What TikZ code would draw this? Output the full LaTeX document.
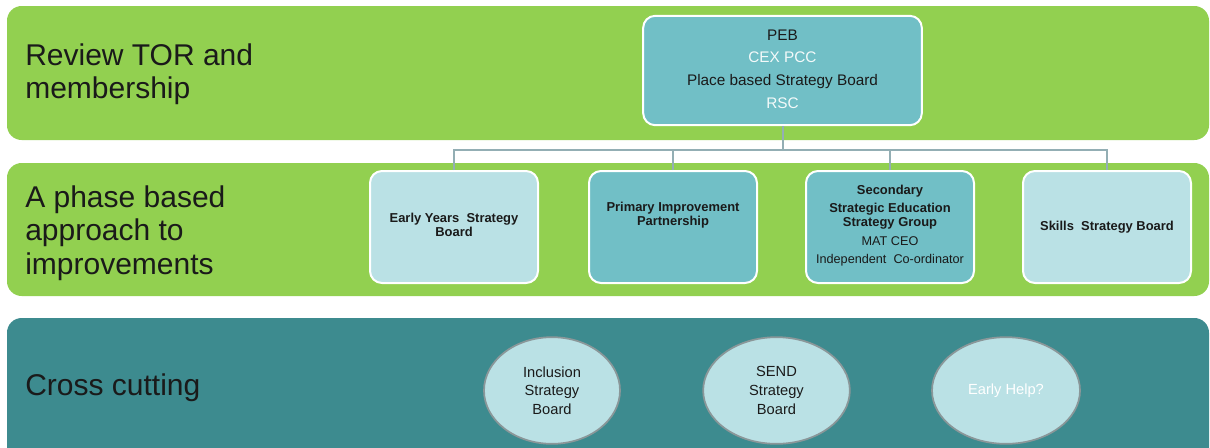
\documentclass[tikz,border=0pt]{standalone}
\usepackage{fontspec}
\setmainfont{Liberation Sans}
\usetikzlibrary{shapes.geometric}
\definecolor{bandgreen}{HTML}{92D050}
\definecolor{bandteal}{HTML}{3D8B8F}
\definecolor{boxteal}{HTML}{71BFC6}
\definecolor{boxlight}{HTML}{BAE1E5}
\definecolor{linkgrey}{HTML}{93AEB4}
\definecolor{ellgrey}{HTML}{8A9799}
\definecolor{inktext}{HTML}{1A1A1A}
\tikzset{
  bandshape/.style={rounded corners=11pt},
  bandlabel/.style={anchor=west, align=left, inner sep=0pt, text=inktext,
    font=\fontsize{22.5}{25}\selectfont},
  pebbox/.style={draw=white, line width=1.5pt, fill=boxteal, rounded corners=9pt,
    minimum width=209pt, minimum height=82pt},
  rowbox/.style={draw=white, line width=1.5pt, rounded corners=9pt,
    minimum width=126pt, minimum height=84pt},
  boxtxt/.style={align=center, inner sep=0pt, text=inktext,
    font=\bfseries\fontsize{9.7}{10.5}\selectfont},
  link/.style={draw=linkgrey, line width=1.5pt},
  oval/.style={ellipse, draw=ellgrey, line width=1.3pt, fill=boxlight, inner sep=0pt,
    minimum height=80pt, align=center, text=inktext,
    font=\fontsize{11}{14}\selectfont},
}
\begin{document}
\begin{tikzpicture}[x=0.75pt,y=-0.75pt]
\useasboundingbox (0,0) rectangle (1210,447);
\begin{scope}
\clip (0,0) rectangle (1210,447);
% bands
\fill[bandgreen, bandshape] (7,6) rectangle (1209,140);
\fill[bandgreen, bandshape] (7,163) rectangle (1209,296);
\fill[bandteal, bandshape] (7,318) rectangle (1209,470);
\end{scope}

% band labels
\node[bandlabel] (lab1) at (25,74) {Review TOR and\\membership};
\node[bandlabel] (lab2) at (25,233) {A phase based\\approach to\\improvements};
\node[bandlabel] (lab3) at (25,388) {Cross cutting};

% top box
\node[pebbox] (peb) at (782.5,70.5) {};
\node[align=center, inner sep=0pt, font=\fontsize{11.5}{17}\selectfont] (pebtxt) at (782.5,69)
  {\textcolor{inktext}{PEB}\\ \textcolor{white!92!boxteal}{CEX PCC}\\ \textcolor{inktext}{Place based Strategy Board}\\ \textcolor{white!92!boxteal}{RSC}};

% row boxes
\node[rowbox, fill=boxlight] (ey) at (454,227) {};
\node[rowbox, fill=boxteal] (pri) at (673,227) {};
\node[rowbox, fill=boxteal] (sec) at (890,227) {};
\node[rowbox, fill=boxlight] (sk) at (1107,227) {};

\node[boxtxt] (eytxt) at (454,225) {Early Years\ \ Strategy\\Board};
\node[boxtxt] (pritxt) at (673,215) {Primary Improvement\\Partnership};
\node[boxtxt] (sectxt1) at (890,191) {Secondary};
\node[boxtxt] (sectxt2) at (890,216) {Strategic Education\\Strategy Group};
\node[align=center, inner sep=0pt, text=inktext, font=\fontsize{9.5}{14}\selectfont] (sectxt3) at (890,251.5)
  {MAT CEO\\Independent\ \ Co-ordinator};
\node[boxtxt] (sktxt) at (1107,227) {Skills\ \ Strategy Board};

% connectors
\coordinate (bus) at (782.5,150);
\draw[link] (peb.south) -- (bus);
\draw[link] (ey.north) |- (bus);
\draw[link] (pri.north) |- (bus);
\draw[link] (sec.north) |- (bus);
\draw[link] (sk.north) |- (bus);

% cross cutting ovals
\node[oval, minimum width=102pt] (incl) at (552,390.5) {Inclusion\\Strategy\\Board};
\node[oval, minimum width=110pt] (send) at (776.5,390.5) {SEND\\Strategy\\Board};
\node[oval, minimum width=111pt, text=white] (help) at (1006,390.5) {Early Help?};
\end{tikzpicture}
\end{document}
